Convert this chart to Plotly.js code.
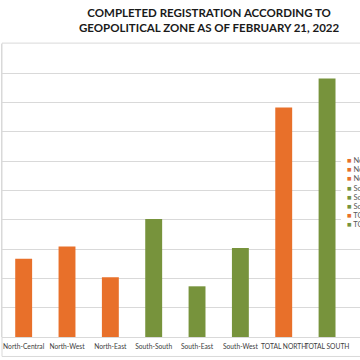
<!DOCTYPE html>
<html><head><meta charset="utf-8">
<script src="https://cdn.plot.ly/plotly-3.0.1.min.js"></script>
<style>html,body{margin:0;padding:0;background:#fff}#c{width:360px;height:360px}</style>
</head><body><div id="c"></div>
<script>
const categories = ["North-Central","North-West","North-East","South-South","South-East","South-West","TOTAL NORTH","TOTAL SOUTH"];
const values = [2.67, 3.09, 2.04, 4.03, 1.73, 3.04, 7.83, 8.82];
const regions = ["North","North","North","South","South","South","North","South"];
const colorMap = {North: "#E8702A", South: "#77933C"};
const titleText = "<b>COMPLETED REGISTRATION ACCORDING TO<br>GEOPOLITICAL ZONE AS OF FEBRUARY 21, 2022</b>";

const colors = regions.map(r => colorMap[r]);

const trace = {
  type: "bar",
  x: categories,
  y: values,
  marker: {color: colors, line: {width: 0}},
  showlegend: false,
  hoverinfo: "x+y"
};

const W = 360, H = 360, mL = 2, mT = 44, mB = 22.5, mR = 0;
const plotH = H - mT - mB, plotW = W - mL - mR;
const legY0 = 161, legStep = 9.1, legX = 345;
const FONT = "Lato, Liberation Sans, Arial, sans-serif";
const annotations = categories.map((c, i) => ({
  xref: "paper", yref: "paper",
  x: (legX - mL) / plotW,
  y: (H - mB - (legY0 + i * legStep)) / plotH,
  xanchor: "left", yanchor: "middle",
  text: '<span style="color:' + colors[i] + '">■</span> ' + c,
  showarrow: false,
  font: {family: FONT, size: 7.5, color: "#595959"}
}));
annotations.push({
  xref: "paper", yref: "paper",
  x: (209 - mL) / plotW, y: (H - mB - 19.5) / plotH,
  xanchor: "center", yanchor: "middle", align: "center",
  text: titleText, showarrow: false,
  font: {family: FONT, size: 11.5, color: "#1a1a1a"}
});

const layout = {
  width: W, height: H,
  margin: {l: mL, r: mR, t: mT, b: mB, pad: 0},
  paper_bgcolor: "#fff", plot_bgcolor: "#fff",
  bargap: 0.61,
  xaxis: {
    type: "category",
    range: [-0.5, 7.76],
    showgrid: false, zeroline: false, showline: false,
    ticks: "", tickangle: 0,
    tickfont: {family: FONT, size: 6.7, color: "#404040"},
    ticklabelstandoff: 4,
    fixedrange: true
  },
  yaxis: {
    range: [0, 10], dtick: 1,
    showgrid: true, gridcolor: "#d9d9d9", gridwidth: 1,
    showticklabels: false, ticks: "",
    zeroline: true, zerolinecolor: "#d9d9d9", zerolinewidth: 1,
    showline: true, linecolor: "#d9d9d9", linewidth: 1, mirror: false,
    fixedrange: true
  },
  shapes: [
    {type: "rect", xref: "paper", yref: "paper", x0: 0, x1: 1.02, y0: -19.5/plotH, y1: 1.003,
     line: {color: "#d9d9d9", width: 1}, fillcolor: "rgba(0,0,0,0)", layer: "above"},
    {type: "rect", xref: "paper", yref: "paper", x0: (341 - mL)/plotW, x1: 1.02,
     y0: (H - mB - 232)/plotH, y1: (H - mB - 155)/plotH,
     line: {width: 0}, fillcolor: "#fff", layer: "above"}
  ],
  annotations: annotations
};

Plotly.newPlot("c", [trace], layout, {displayModeBar: false, staticPlot: true});
</script></body></html>
